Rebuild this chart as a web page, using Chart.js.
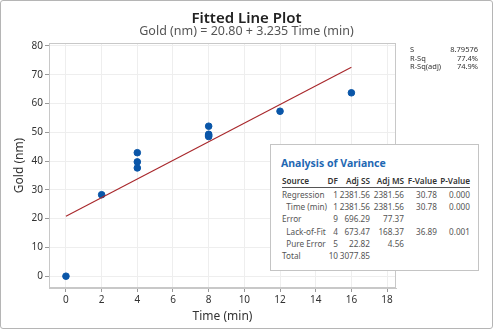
<!DOCTYPE html>
<html lang="en">
<head>
  <meta charset="UTF-8" />
  <title>Fitted Line Plot</title>
  <script src="https://cdn.jsdelivr.net/npm/chart.js"></script>
  <style>
    html, body { margin:0; padding:0; background:#fff; }
    body { font-family: 'Noto Sans', 'Open Sans', sans-serif; }
    .frame {
      position: relative; width: 491px; height: 327px;
      border: 1px solid #b5b5b5; border-radius: 3px; overflow: hidden;
    }
    #chartWrap { position:absolute; left:0; top:0; width:491px; height:327px; }
    .title { position:absolute; left:0; width:491px; text-align:center; top:6px;
      font-size:15px; font-weight:600; color:#222; }
    .subtitle { position:absolute; left:0; width:491px; text-align:center; top:21px;
      font-size:12.5px; color:#555; }
    .stats { position:absolute; left:409px; top:44px; width:68px; font-size:7.5px; color:#333; line-height:8.5px; }
    .stats div { display:flex; justify-content:space-between; }
    .anova {
      position:absolute; left:269px; top:143px; width:209px; height:127px;
      background:#fff; border:1px solid #c4c4c4; box-sizing:border-box;
    }
    .anova h4 { margin:0; position:absolute; left:10px; top:11px; font-size:10.5px; color:#1f68b3; font-weight:700; }
    .anova table { position:absolute; left:11px; top:30px; border-collapse:collapse;
      table-layout:fixed; width:188px; font-size:8.2px; color:#555; }
    .anova th { font-weight:600; color:#333; border-bottom:1px solid #555; padding:0 0 1px; text-align:right; white-space:nowrap; }
    .anova td { padding:0; height:12.3px; text-align:right; white-space:nowrap; }
    .anova th:first-child, .anova td:first-child { text-align:left; }
  </style>
</head>
<body>
  <div class="frame">
    <div id="chartWrap"><canvas id="fitChart" width="491" height="327"></canvas></div>
    <div class="title">Fitted Line Plot</div>
    <div class="subtitle">Gold (nm) = 20.80 + 3.235 Time (min)</div>
    <div class="stats" id="stats"></div>
    <div class="anova">
      <h4>Analysis of Variance</h4>
      <table id="anovaTable"></table>
    </div>
  </div>

  <script>
    // observed points
    const timeVals = [0, 2, 4, 4, 4, 8, 8, 8, 8, 12, 16];
    const goldVals = [0, 28.3, 42.9, 39.7, 37.6, 52.1, 49.3, 48.9, 48.5, 57.3, 63.7];

    // fitted line: Gold = 20.80 + 3.235 Time
    const lineX = [0, 16];
    const lineY = [20.80, 72.56];

    const xTicks = [0, 2, 4, 6, 8, 10, 12, 14, 16, 18];
    const yTicks = [0, 10, 20, 30, 40, 50, 60, 70, 80];

    const statLabels = ['S', 'R-Sq', 'R-Sq(adj)'];
    const statValues = ['8.79576', '77.4%', '74.9%'];

    const anovaHeader = ['Source', 'DF', 'Adj SS', 'Adj MS', 'F-Value', 'P-Value'];
    const anovaColWidths = [44, 12, 32, 34, 33, 33];
    const anovaRows = [
      ['Regression', '1', '2381.56', '2381.56', '30.78', '0.000'],
      ['&nbsp;&nbsp;Time (min)', '1', '2381.56', '2381.56', '30.78', '0.000'],
      ['Error', '9', '696.29', '77.37', '', ''],
      ['&nbsp;&nbsp;Lack-of-Fit', '4', '673.47', '168.37', '36.89', '0.001'],
      ['&nbsp;&nbsp;Pure Error', '5', '22.82', '4.56', '', ''],
      ['Total', '10', '3077.85', '', '', '']
    ];

    document.getElementById('stats').innerHTML = statLabels
      .map((l, i) => `<div><span>${l}</span><span>${statValues[i]}</span></div>`).join('');

    document.getElementById('anovaTable').innerHTML =
      '<colgroup>' + anovaColWidths.map(w => `<col style="width:${w}px">`).join('') + '</colgroup>' +
      '<tr>' + anovaHeader.map(h => `<th>${h}</th>`).join('') + '</tr>' +
      anovaRows.map(r => '<tr>' + r.map(c => `<td>${c}</td>`).join('') + '</tr>').join('');

    const frameBox = {
      id: 'frameBox',
      afterDraw(chart) {
        const a = chart.chartArea, ctx = chart.ctx;
        ctx.save();
        ctx.strokeStyle = '#c8c8c8';
        ctx.lineWidth = 1;
        ctx.strokeRect(a.left + 0.5, a.top + 0.5, a.right - a.left - 1, a.bottom - a.top - 1);
        ctx.restore();
      }
    };

    const tickFont = { family: "'Noto Sans', sans-serif", size: 10 };

    new Chart(document.getElementById('fitChart'), {
      type: 'scatter',
      data: {
        datasets: [
          {
            type: 'line',
            data: lineX.map((x, i) => ({ x, y: lineY[i] })),
            borderColor: '#a8272b', borderWidth: 1.1, pointRadius: 0, fill: false
          },
          {
            data: timeVals.map((x, i) => ({ x, y: goldVals[i] })),
            backgroundColor: '#0a56a8', borderColor: '#0a56a8', pointRadius: 3.3
          }
        ]
      },
      options: {
        responsive: false,
        animation: false,
        layout: { padding: { left: 11, right: 96, top: 42, bottom: 0 } },
        plugins: { legend: { display: false }, tooltip: { enabled: false } },
        scales: {
          x: {
            type: 'linear', min: -0.95, max: 18.5,
            afterBuildTicks: s => { s.ticks = xTicks.map(v => ({ value: v })); },
            afterFit: s => { s.height = 40; },
            grid: { color: '#eeeeee', tickColor: '#999', tickLength: 4 },
            border: { color: '#c8c8c8' },
            ticks: { color: '#333', font: tickFont, padding: 2, maxRotation: 0 },
            title: { display: true, text: 'Time (min)', color: '#333',
              font: { family: "'Noto Sans', sans-serif", size: 12 }, padding: { top: 0 } }
          },
          y: {
            type: 'linear', min: -4.1, max: 81,
            afterBuildTicks: s => { s.ticks = yTicks.map(v => ({ value: v })); },
            afterFit: s => { s.width = 37; },
            grid: { color: '#eeeeee', tickColor: '#999', tickLength: 4 },
            border: { color: '#c8c8c8' },
            ticks: { color: '#333', font: tickFont, padding: 2 },
            title: { display: true, text: 'Gold (nm)', color: '#333',
              font: { family: "'Noto Sans', sans-serif", size: 12 }, padding: 0 }
          }
        }
      },
      plugins: [frameBox]
    });
  </script>
</body>
</html>
